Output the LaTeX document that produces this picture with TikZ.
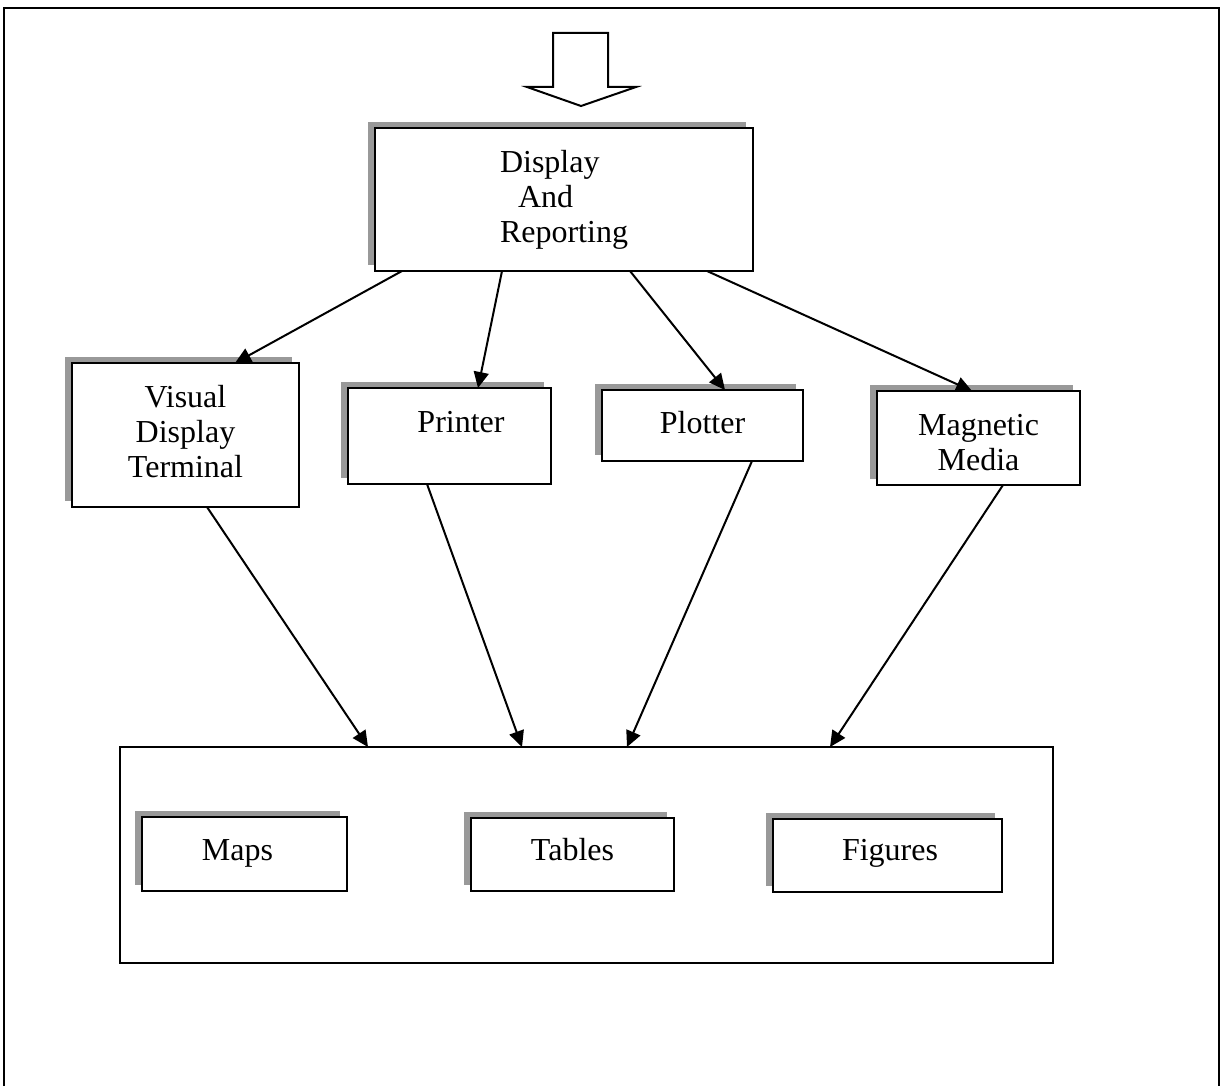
\documentclass[tikz,border=0pt]{standalone}
\usepackage{fontspec}
\setmainfont{Liberation Serif}
\usetikzlibrary{arrows.meta,shadows,calc}

\tikzset{
  unitbox/.style={draw=black, line width=1.3pt, fill=white, inner sep=0pt, outer sep=0pt,
    general shadow={shadow xshift=-3.5pt, shadow yshift=3pt, fill=black!40},
    font=\fontsize{16pt}{17.5pt}\selectfont},
  plainbox/.style={draw=black, line width=1.3pt, fill=white, inner sep=0pt, outer sep=0pt},
  flow/.style={line width=1pt, -{Triangle[length=8pt,width=7.5pt]}},
}

\begin{document}
\begin{tikzpicture}[x=0.5pt, y=-0.5pt]
\useasboundingbox (0,0) rectangle (1224,1086);

% page frame, open at the bottom
\draw[line width=1pt] (4,1086) -- (4,8) -- (1219,8) -- (1219,1086);

% incoming block arrow
\draw[line width=1pt, line join=miter]
  (553,33) -- (608,33) -- (608,87) -- (636,87) -- (581,106) -- (527,87) -- (553,87) -- cycle;

% main box (multi-line text sits on the baseline of its last line)
\node[unitbox, align=left, minimum width=189pt, text height=57pt, text depth=14.5pt]
  (disp) at (564,199.5) {Display\\\hspace*{9pt}And\\Reporting};

% output devices
\node[unitbox, align=center, minimum width=113.5pt, text height=57pt, text depth=15pt]
  (vdt) at (185.5,435) {Visual\\Display\\Terminal};
\node[unitbox, minimum width=101.5pt, text height=22pt, text depth=26pt]
  (printer) at (449.5,436) {\hspace*{11.5pt}Printer};
\node[unitbox, minimum width=100.5pt, text height=21.5pt, text depth=14pt]
  (plotter) at (702.5,425.5) {Plotter};
\node[unitbox, align=center, minimum width=101.5pt, text height=39.5pt, text depth=7.5pt]
  (magnetic) at (978.5,438) {Magnetic\\Media};

% products
\node[plainbox, minimum width=466.5pt, minimum height=108pt] (products) at (586.5,855) {};
\node[unitbox, minimum width=102.5pt, text height=21.5pt, text depth=15.5pt]
  (maps) at (244.5,854) {Maps\hspace*{7pt}};
\node[unitbox, minimum width=101.5pt, text height=21pt, text depth=15.5pt]
  (tables) at (572.5,854.5) {Tables};
\node[unitbox, minimum width=114.5pt, text height=20.5pt, text depth=16pt]
  (figures) at (887.5,855.5) {\hspace*{2.5pt}Figures};

% connectors from the main box to the devices
\draw[flow] ($(disp.south west)+(27,0)$)  -- ($(vdt.north west)+(163,0)$);
\draw[flow] ($(disp.south west)+(127,0)$) -- ($(printer.north west)+(130,0)$);
\draw[flow] ($(disp.south west)+(255,0)$) -- ($(plotter.north west)+(123,0)$);
\draw[flow] ($(disp.south west)+(332,0)$) -- ($(magnetic.north west)+(95,0)$);

% connectors from the devices to the products
\draw[flow] ($(vdt.south west)+(135,0)$)      -- ($(products.north west)+(248,0)$);
\draw[flow] ($(printer.south west)+(79,0)$)   -- ($(products.north west)+(402,0)$);
\draw[flow] ($(plotter.south west)+(150,0)$)  -- ($(products.north west)+(507,0)$);
\draw[flow] ($(magnetic.south west)+(126,0)$) -- ($(products.north west)+(710,0)$);
\end{tikzpicture}
\end{document}
